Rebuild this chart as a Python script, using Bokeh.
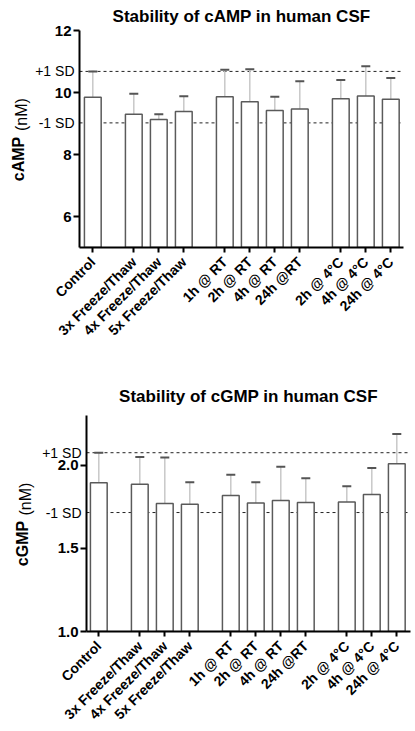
from bokeh.plotting import figure
from bokeh.layouts import column, row
from bokeh.models import (ColumnDataSource, Range1d, FixedTicker, Span,
                          Whisker, TeeHead, LinearAxis)
from bokeh.embed import file_html
from bokeh.resources import INLINE
from math import pi

# ---------------- data ----------------
categories = ["Control", "3x Freeze/Thaw", "4x Freeze/Thaw", "5x Freeze/Thaw",
              "1h @ RT", "2h @ RT", "4h @ RT", "24h @RT",
              "2h @ 4°C", "4h @ 4°C", "24h @ 4°C"]

camp_mean = [9.85, 9.30, 9.13, 9.39, 9.86, 9.70, 9.42, 9.47, 9.80, 9.89, 9.78]
camp_sd = [0.83, 0.66, 0.17, 0.49, 0.87, 1.05, 0.44, 0.89, 0.60, 0.96, 0.69]
camp_sd_lines = [10.68, 9.02]
camp_ticks = [6, 8, 10, 12]
camp_tick_labels = ["6", "8", "10", "12"]

cgmp_mean = [1.896, 1.886, 1.770, 1.766, 1.818, 1.774, 1.788, 1.776, 1.780, 1.824, 2.010]
cgmp_sd = [0.180, 0.164, 0.277, 0.132, 0.126, 0.124, 0.204, 0.146, 0.094, 0.160, 0.178]
cgmp_sd_lines = [2.076, 1.716]
cgmp_ticks = [1.0, 1.5, 2.0]
cgmp_tick_labels = ["1.0", "1.5", "2.0"]

sd_labels = ["+1 SD", "-1 SD"]

# ---------------- layout (category slots with group gaps) ----------------
slot_pos = [0, 1.64, 2.64, 3.64, 5.28, 6.28, 7.28, 8.28, 9.92, 10.92, 11.92]
SLOT = 25.0  # px per slot unit
FONT = "Liberation Sans"
NB = "\u00a0"


def make_chart(title, ylab_bold, means, sds, ticks, tick_labels, sd_vals,
               y0, y1, height, left, right, top_border, bottom_border, x_start,
               title_standoff, als_a, sd_standoff, als_b):
    frame_w = 415 - left - right
    x_end = x_start + frame_w / SLOT

    p = figure(output_backend="svg", toolbar_location=None,
               width=415, height=height,
               min_border_left=left, min_border_right=right,
               min_border_top=top_border, min_border_bottom=bottom_border,
               x_range=Range1d(x_start, x_end), y_range=Range1d(y0, y1),
               background_fill_color="white", border_fill_color="white",
               title=title)
    p.outline_line_color = None
    p.grid.visible = False

    p.title.align = "center"
    p.title.text_font = FONT
    p.title.text_font_style = "bold"
    p.title.text_font_size = "17px"
    p.title.text_color = "black"
    p.title.text_line_height = 1.0
    p.title.standoff = title_standoff

    # SD reference lines (behind bars)
    for v in sd_vals:
        p.add_layout(Span(location=v, dimension="width", line_color="#222222",
                          line_width=1, line_dash="3 3", level="underlay"))

    src = ColumnDataSource(dict(
        x=slot_pos, top=means,
        upper=[m + s for m, s in zip(means, sds)],
    ))
    p.vbar(x="x", top="top", bottom=y0, width=0.67, source=src,
           fill_color="white", line_color="#5a5a5a", line_width=1.5)

    p.add_layout(Whisker(base="x", lower="top", upper="upper", source=src,
                         dimension="height", line_color="#c8c8c8", line_width=1.5,
                         upper_head=TeeHead(size=9, line_color="#555555", line_width=2),
                         lower_head=None))

    # x axis
    p.xaxis.ticker = FixedTicker(ticks=slot_pos)
    p.xaxis.major_label_overrides = {float(x): c for x, c in zip(slot_pos, categories)}
    p.xaxis.major_label_orientation = pi / 4
    p.xaxis.major_label_text_font = FONT
    p.xaxis.major_label_text_font_style = "bold"
    p.xaxis.major_label_text_font_size = "14px"
    p.xaxis.major_label_text_color = "black"
    p.xaxis.major_label_standoff = 7
    p.xaxis.axis_line_width = 2
    p.xaxis.major_tick_line_width = 2
    p.xaxis.major_tick_out = 5
    p.xaxis.major_tick_in = 0
    p.xaxis.minor_tick_line_color = None

    # main y axis: bold numbers, bold molecule name
    ya = p.yaxis[0]
    ya.ticker = FixedTicker(ticks=ticks)
    ya.major_label_overrides = {float(t): l for t, l in zip(ticks, tick_labels)}
    ya.major_label_text_font = FONT
    ya.major_label_text_font_style = "bold"
    ya.major_label_text_font_size = "15px"
    ya.major_label_text_color = "black"
    ya.major_label_standoff = 2
    ya.axis_line_width = 2
    ya.major_tick_line_width = 2
    ya.major_tick_out = 6
    ya.major_tick_in = 0
    ya.minor_tick_line_color = None
    ya.axis_label = ylab_bold + NB * 9
    ya.axis_label_text_font = FONT
    ya.axis_label_text_font_style = "bold"
    ya.axis_label_text_font_size = "16px"
    ya.axis_label_text_color = "black"
    ya.axis_label_standoff = als_a

    # secondary left axis: SD labels (normal weight) and unit
    yb = LinearAxis(ticker=FixedTicker(ticks=sd_vals),
                    major_label_overrides={float(v): t for v, t in zip(sd_vals, sd_labels)},
                    axis_line_color=None, major_tick_line_color=None,
                    minor_tick_line_color=None, major_tick_out=0, major_tick_in=0,
                    major_label_standoff=sd_standoff,
                    major_label_text_font=FONT, major_label_text_font_size="14px",
                    major_label_text_font_style="normal",
                    major_label_text_color="black",
                    axis_label=NB * 11 + "(nM)", axis_label_standoff=als_b,
                    axis_label_text_font=FONT, axis_label_text_font_size="16px",
                    axis_label_text_font_style="normal",
                    axis_label_text_color="black")
    p.add_layout(yb, "left")
    return p


p1 = make_chart("Stability of cAMP in human CSF", "cAMP", camp_mean, camp_sd,
                camp_ticks, camp_tick_labels, camp_sd_lines,
                5.0, 12.0, height=370, left=79, right=12, top_border=30,
                bottom_border=123, x_start=-0.532, title_standoff=9,
                als_a=25, sd_standoff=-68, als_b=2)

p2 = make_chart("Stability of cGMP in human CSF", "cGMP", cgmp_mean, cgmp_sd,
                cgmp_ticks, cgmp_tick_labels, cgmp_sd_lines,
                1.0, 2.30, height=360, left=86, right=5, top_border=45,
                bottom_border=98, x_start=-0.492, title_standoff=20,
                als_a=24, sd_standoff=-71, als_b=5)

layout = column(row(p1), row(p2), spacing=0)
open("out.html", "w").write(file_html(layout, INLINE))
